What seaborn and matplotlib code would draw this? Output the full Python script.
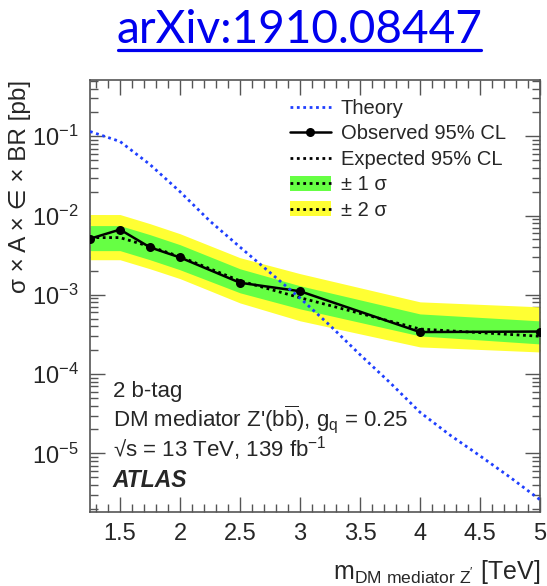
import numpy as np
import pandas as pd
import matplotlib
matplotlib.use("Agg")
import matplotlib.pyplot as plt
import matplotlib.ticker as mticker
from matplotlib.lines import Line2D
from matplotlib.patches import Patch
import seaborn as sns

# Z' mass points [TeV] and 95% CL limits on sigma x A x eff x BR [pb]
mass = [1.25, 1.5, 1.75, 2.0, 2.5, 3.0, 4.0, 5.0]
observed = [5.1e-3, 6.65e-3, 3.97e-3, 2.96e-3, 1.42e-3, 1.11e-3, 3.39e-4, 3.44e-4]
expected = [5.27e-3, 5.27e-3, 4.06e-3, 3.03e-3, 1.50e-3, 9.2e-4, 3.7e-4, 3.0e-4]
exp_plus2 = [1.03e-2, 1.03e-2, 7.9e-3, 5.9e-3, 2.94e-3, 1.85e-3, 8.15e-4, 7.05e-4]
exp_plus1 = [7.47e-3, 7.47e-3, 5.74e-3, 4.29e-3, 2.13e-3, 1.30e-3, 5.74e-4, 4.69e-4]
exp_minus1 = [3.61e-3, 3.61e-3, 2.77e-3, 2.07e-3, 1.06e-3, 6.65e-4, 3.03e-4, 2.40e-4]
exp_minus2 = [2.77e-3, 2.77e-3, 2.13e-3, 1.60e-3, 7.9e-4, 4.7e-4, 2.2e-4, 1.9e-4]

# Theory prediction for the DM mediator Z'
theory_mass = [1.25, 1.5, 1.75, 2.0, 2.25, 2.5, 3.0, 3.25, 3.5, 3.75, 4.0, 4.25, 4.5, 4.75, 5.0]
theory = [0.115, 0.086, 0.044, 0.020, 8.5e-3, 4.0e-3, 9.1e-4, 4.1e-4, 1.76e-4,
          7.8e-5, 3.3e-5, 1.7e-5, 9.3e-6, 5.0e-6, 2.6e-6]

x_ticks = [1.5, 2.0, 2.5, 3.0, 3.5, 4.0, 4.5, 5.0]
x_ticklabels = ["1.5", "2", "2.5", "3", "3.5", "4", "4.5", "5"]

sns.set_style("ticks")
plt.rcParams["font.family"] = ["Liberation Sans", "DejaVu Sans"]
plt.rcParams["mathtext.fontset"] = "custom"
plt.rcParams["mathtext.rm"] = "Liberation Sans"
plt.rcParams["mathtext.it"] = "Liberation Sans:italic"
plt.rcParams["mathtext.bf"] = "Liberation Sans:bold"
plt.rcParams["mathtext.sf"] = "Liberation Sans"

GREEN = "#66FF44"
YELLOW = "#FFFF33"
BLUE = "#1f3fff"
FRAME = "#555555"
DOTS = (0, (1.0, 1.3))

limits = pd.DataFrame({
    "mass": mass, "observed": observed, "expected": expected,
    "p2": exp_plus2, "p1": exp_plus1, "m1": exp_minus1, "m2": exp_minus2,
})
theo = pd.DataFrame({"mass": theory_mass, "theory": theory})

fig = plt.figure(figsize=(5.47, 5.86), dpi=100)
ax = fig.add_axes([90 / 547, 1 - 512 / 586, 450 / 547, 432 / 586])

ax.fill_between(limits["mass"], limits["m2"], limits["p2"], color=YELLOW, lw=0, zorder=1)
ax.fill_between(limits["mass"], limits["m1"], limits["p1"], color=GREEN, lw=0, zorder=2)

sns.lineplot(data=limits, x="mass", y="expected", ax=ax, color="black",
             lw=2.0, linestyle=DOTS, zorder=3, legend=False)
sns.lineplot(data=limits, x="mass", y="observed", ax=ax, color="black",
             lw=1.8, marker="o", markersize=6.5, markeredgewidth=0, zorder=4,
             legend=False)
sns.lineplot(data=theo, x="mass", y="theory", ax=ax, color=BLUE,
             lw=2.0, linestyle=DOTS, zorder=5, legend=False)

ax.set_yscale("log")
ax.set_xlim(1.25, 5.0)
ax.set_ylim(10 ** -5.74, 10 ** -0.29)

ax.set_xticks(x_ticks)
ax.set_xticklabels(x_ticklabels)
ax.xaxis.set_minor_locator(mticker.MultipleLocator(0.1))
ax.yaxis.set_minor_locator(mticker.LogLocator(base=10, subs=np.arange(2, 10), numticks=20))
ax.yaxis.set_minor_formatter(mticker.NullFormatter())
ax.set_yticks([1e-5, 1e-4, 1e-3, 1e-2, 1e-1])
ax.set_yticklabels([r"$10^{-5}$", r"$10^{-4}$", r"$10^{-3}$", r"$10^{-2}$", r"$10^{-1}$"])

ax.tick_params(which="both", direction="in", top=True, right=True, color=FRAME,
               labelsize=17, width=1.0)
ax.tick_params(which="major", length=11, pad=8)
ax.tick_params(which="minor", length=5.5)
for s in ax.spines.values():
    s.set_color(FRAME)
    s.set_linewidth(1.2)

ax.set_xlabel(r"m$_{\mathrm{DM\ mediator\ Z'}}$ [TeV]", fontsize=18, loc="right", labelpad=9)
ax.set_ylabel("σ × A × ∈ × BR [pb]", fontsize=17.5, loc="top", labelpad=1)

handles = [
    Line2D([], [], color=BLUE, lw=2.0, linestyle=DOTS),
    Line2D([], [], color="black", lw=1.8, marker="o", markersize=6.5, markeredgewidth=0),
    Line2D([], [], color="black", lw=2.0, linestyle=DOTS),
    (Patch(facecolor=GREEN, lw=0), Line2D([], [], color="black", lw=2.0, linestyle=DOTS)),
    (Patch(facecolor=YELLOW, lw=0), Line2D([], [], color="black", lw=2.0, linestyle=DOTS)),
]
labels = ["Theory", "Observed 95% CL", "Expected 95% CL", "± 1 σ", "± 2 σ"]
ax.legend(handles, labels, loc="upper left", bbox_to_anchor=(0.445, 0.956),
          frameon=False, fontsize=14.5, handlelength=2.0, handleheight=0.75,
          handletextpad=0.5, labelspacing=0.32, borderpad=0, borderaxespad=0)

ax.text(0.051, 0.278, "2 b-tag", transform=ax.transAxes, fontsize=16, va="center")
ax.text(0.051, 0.215, r"DM mediator Z'(b$\overline{\mathrm{b}}$), g$_{\mathrm{q}}$ = 0.25",
        transform=ax.transAxes, fontsize=16, va="center")
ax.text(0.051, 0.146, r"√s = 13 TeV, 139 fb$^{\mathrm{-1}}$",
        transform=ax.transAxes, fontsize=16, va="center")
ax.text(0.051, 0.074, "ATLAS", transform=ax.transAxes, fontsize=16.5,
        fontweight="bold", fontstyle="italic", va="center")

fig.text(299 / 547, 1 - 30 / 586, "arXiv:1910.08447", color="#0000EE",
         fontsize=33, family=["Lato", "DejaVu Sans"], ha="center", va="center")
fig.add_artist(Line2D([118 / 547, 481 / 547], [1 - 50 / 586, 1 - 50 / 586],
                      color="#0000EE", lw=2.3, transform=fig.transFigure))

fig.savefig("out.png", dpi=100)
